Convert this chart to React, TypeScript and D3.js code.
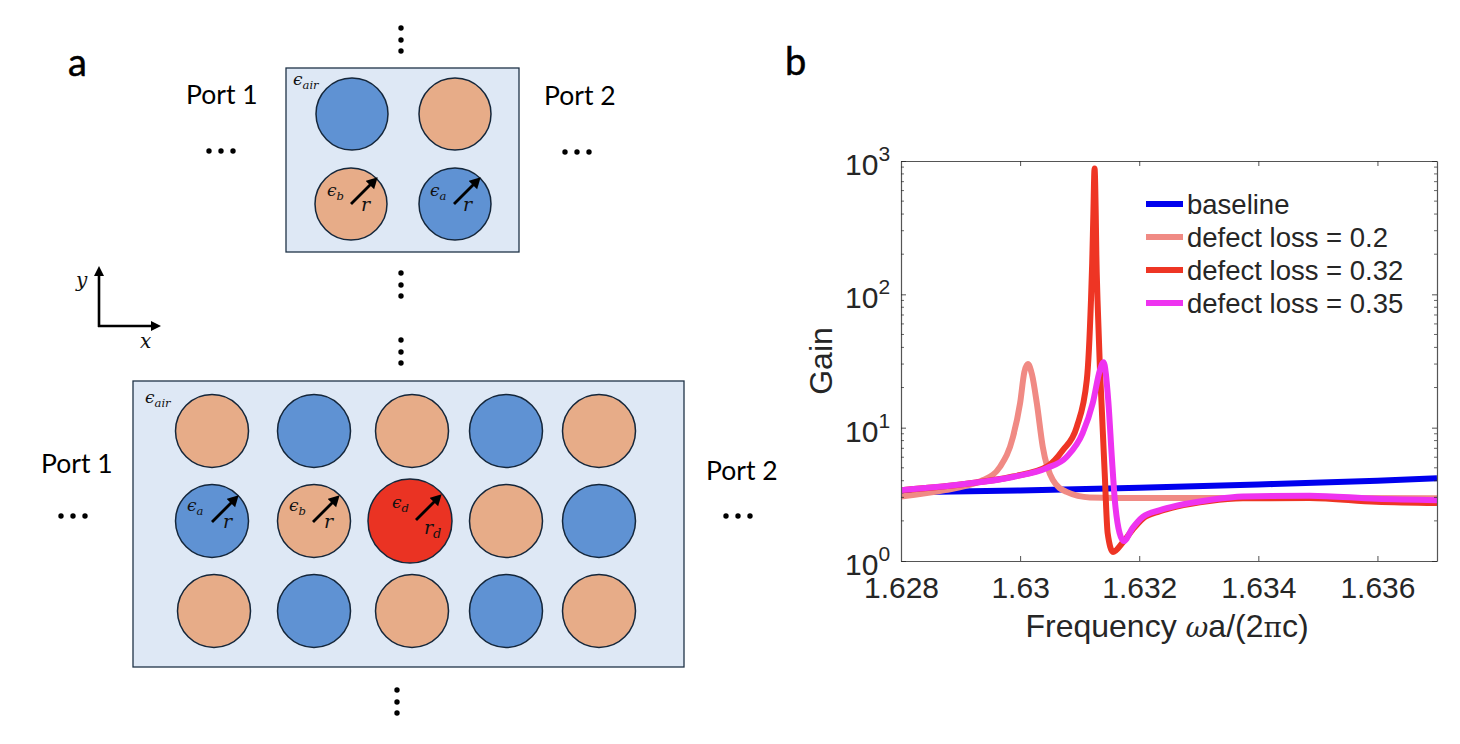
import React, {useEffect, useRef} from 'react';
import * as d3 from 'd3';

// gain curves
const baselineFreq = [1.628, 1.63, 1.632, 1.634, 1.636, 1.637];
const baselineGain = [3.28, 3.38, 3.55, 3.75, 4.0, 4.17];

const loss20Freq = [1.628, 1.62874, 1.62929, 1.62938, 1.62966, 1.62988, 1.63, 1.63007, 1.63013, 1.6302, 1.63028, 1.63038, 1.63055, 1.63078, 1.63117, 1.632, 1.634, 1.637];
const loss20Gain = [3.05, 3.4, 3.9, 4.05, 5.07, 8.5, 15.3, 26, 30, 25, 15.3, 7.2, 4.05, 3.3, 3.0, 2.97, 2.97, 2.96];

const loss32Freq = [1.628, 1.629, 1.62988, 1.63045, 1.63072, 1.63095, 1.63112, 1.63119, 1.63121, 1.63123, 1.63125, 1.63127, 1.63128, 1.6313, 1.63134, 1.63137, 1.63142, 1.63147, 1.63156, 1.63172, 1.63189, 1.63206, 1.63235, 1.63263, 1.63318, 1.63374, 1.63486, 1.63598, 1.637];
const loss32Gain = [3.4, 3.75, 4.3, 5.1, 6.8, 10.1, 22.8, 90, 170, 400, 880, 400, 200, 90, 28, 14.3, 4.6, 1.62, 1.17, 1.37, 1.72, 2.08, 2.36, 2.56, 2.82, 2.95, 2.97, 2.78, 2.72];

const loss35Freq = [1.628, 1.629, 1.62988, 1.63045, 1.63078, 1.63105, 1.63122, 1.63134, 1.6314, 1.63148, 1.63154, 1.63159, 1.63167, 1.63174, 1.63189, 1.63206, 1.63235, 1.63263, 1.63318, 1.63374, 1.63486, 1.63598, 1.637];
const loss35Gain = [3.4, 3.75, 4.27, 4.98, 6.03, 9.1, 15.3, 27, 31, 16, 6, 2.87, 1.62, 1.41, 1.77, 2.14, 2.41, 2.6, 2.87, 3.05, 3.09, 2.93, 2.86];

const legendLabels = ['baseline', 'defect loss = 0.2', 'defect loss = 0.32', 'defect loss = 0.35'];
const seriesColors = ['#0000ee', '#f08a84', '#ee3524', '#ee33f0'];

const xTicks = [1.628, 1.63, 1.632, 1.634, 1.636];
const yDecades = [1, 10, 100, 1000];
const decadeExponents = ['0', '1', '2', '3'];

// schematic: materials in the two lattices
const topCells = [['a', 'b'], ['b', 'a']];
const bottomCells = [
    ['b', 'a', 'b', 'a', 'b'],
    ['a', 'b', 'd', 'b', 'a'],
    ['b', 'a', 'b', 'a', 'b'],
];
const topX = [[352, 455], [351, 455]];
const topY = [114, 204];
const bottomX = [
    [212, 314, 412, 506, 599],
    [212, 314, 410, 506, 599],
    [214, 314, 412, 506, 599],
];
const bottomY = [431, 521, 611];
const materialColors: Record<string, string> = {a: '#5f92d3', b: '#e7ac88', d: '#ea3323'};

const width = 1460;
const height = 744;
const plot = {left: 901, right: 1437, top: 161, bottom: 561};
const ink = '#262626';
const schematicFont = 'Lato, "Open Sans", sans-serif';
const mathFont = '"DejaVu Serif", serif';
const chartFont = '"Liberation Sans", Arial, sans-serif';

const Dots: React.FC<{ xs: number[]; ys: number[] }> = ({xs, ys}) => (
    <g>
        {xs.flatMap(x => ys.map(y => <circle key={`${x}-${y}`} cx={x} cy={y} r={2.7} fill="#000"/>))}
    </g>
);

const Symbol: React.FC<{ x: number; y: number; main: string; sub?: string; size?: number }> = ({x, y, main, sub, size = 17}) => (
    <text x={x} y={y} fontFamily={mathFont} fontStyle="italic" fontSize={size} fill="#111">
        {main}
        {sub && <tspan fontSize={size * 0.68} dy={size * 0.22}>{sub}</tspan>}
    </text>
);

const Pillar: React.FC<{ cx: number; cy: number; material: string; r?: number }> = ({cx, cy, material, r = 36}) => (
    <circle cx={cx} cy={cy} r={r} fill={materialColors[material]} stroke="#14263a" strokeWidth={1.5}/>
);

const Radius: React.FC<{ cx: number; cy: number; len?: number }> = ({cx, cy, len = 25}) => (
    <line x1={cx} y1={cy} x2={cx + len - 4} y2={cy - len + 4} stroke="#000" strokeWidth={2.8} markerEnd="url(#arrowHead)"/>
);

const App: React.FC = () => {
    const svgRef = useRef<SVGSVGElement>(null);

    useEffect(() => {
        const svg = d3.select(svgRef.current);
        svg.select('.chart').remove();
        const g = svg.append('g').attr('class', 'chart');

        const xScale = d3.scaleLinear().domain([1.628, 1.637]).range([plot.left, plot.right]);
        const yScale = d3.scaleLog().domain([1, 1000]).range([plot.bottom, plot.top]);

        g.append('clipPath').attr('id', 'plotClip').append('rect')
            .attr('x', plot.left).attr('y', plot.top)
            .attr('width', plot.right - plot.left).attr('height', plot.bottom - plot.top);

        const series = [
            {freq: baselineFreq, gain: baselineGain},
            {freq: loss20Freq, gain: loss20Gain},
            {freq: loss32Freq, gain: loss32Gain},
            {freq: loss35Freq, gain: loss35Gain},
        ];
        const line = d3.line<[number, number]>()
            .x(d => xScale(d[0]))
            .y(d => yScale(d[1]))
            .curve(d3.curveMonotoneX);

        g.append('g').attr('clip-path', 'url(#plotClip)')
            .selectAll('path')
            .data(series)
            .enter().append('path')
            .attr('fill', 'none')
            .attr('stroke', (_, i) => seriesColors[i])
            .attr('stroke-width', 6)
            .attr('stroke-linejoin', 'round')
            .attr('d', d => line(d.freq.map((f, i) => [f, d.gain[i]] as [number, number])));

        // minor ticks of the log axis
        const minorTicks = yDecades.slice(0, 3).flatMap(d => d3.range(2, 10).map(m => d * m));

        const styleAxis = (sel: d3.Selection<SVGGElement, unknown, null, undefined>) => {
            sel.select('.domain').attr('stroke', '#555').attr('stroke-width', 1.2);
            sel.selectAll('line').attr('stroke', ink).attr('stroke-width', 0.8);
        };

        g.append('g').attr('transform', `translate(0,${plot.bottom})`)
            .call(d3.axisBottom(xScale).tickValues(xTicks).tickSize(-5).tickSizeOuter(0).tickFormat(d => `${+d}`))
            .call(styleAxis)
            .call(a => a.selectAll('text')
                .attr('y', 37).attr('dy', 0)
                .attr('font-family', chartFont).attr('font-size', 30).attr('fill', ink));

        g.append('g').attr('transform', `translate(0,${plot.top})`)
            .call(d3.axisTop(xScale).tickValues(xTicks).tickSize(-5).tickSizeOuter(0).tickFormat(() => ''))
            .call(styleAxis);

        g.append('g').attr('transform', `translate(${plot.left},0)`)
            .call(d3.axisLeft(yScale).tickValues(yDecades).tickSize(-5).tickSizeOuter(0).tickFormat(() => ''))
            .call(styleAxis);

        g.append('g').attr('transform', `translate(${plot.right},0)`)
            .call(d3.axisRight(yScale).tickValues(yDecades).tickSize(-5).tickSizeOuter(0).tickFormat(() => ''))
            .call(styleAxis);

        g.append('g').selectAll('line')
            .data(minorTicks.flatMap(v => [{v, x1: plot.left, x2: plot.left + 3}, {v, x1: plot.right, x2: plot.right - 3}]))
            .enter().append('line')
            .attr('x1', d => d.x1).attr('x2', d => d.x2)
            .attr('y1', d => yScale(d.v)).attr('y2', d => yScale(d.v))
            .attr('stroke', ink).attr('stroke-width', 0.7);

        // 10^n labels
        const labels = g.append('g').selectAll('text')
            .data(yDecades)
            .enter().append('text')
            .attr('font-family', chartFont)
            .attr('fill', ink)
            .attr('x', plot.left - 56)
            .attr('y', d => yScale(d) + 14)
            .attr('font-size', 30);
        labels.append('tspan').text('10');
        labels.append('tspan').attr('font-size', 21).attr('dy', -14).text((_, i) => decadeExponents[i]);

        g.append('text')
            .attr('transform', `translate(832,361) rotate(-90)`)
            .attr('text-anchor', 'middle')
            .attr('font-family', chartFont).attr('font-size', 32).attr('fill', ink)
            .text('Gain');

        const xLabel = g.append('text')
            .attr('x', 1167).attr('y', 637)
            .attr('text-anchor', 'middle')
            .attr('font-family', chartFont).attr('font-size', 32).attr('fill', ink);
        xLabel.append('tspan').text('Frequency ');
        xLabel.append('tspan').attr('font-family', mathFont).attr('font-style', 'italic').attr('font-size', 28).text('ω');
        xLabel.append('tspan').text('a/(2');
        xLabel.append('tspan').attr('font-family', mathFont).attr('font-size', 28).text('π');
        xLabel.append('tspan').text('c)');

        // legend
        const legendY = d3.scalePoint<string>().domain(legendLabels).range([204, 303]);
        const legend = g.append('g').selectAll('g')
            .data(legendLabels)
            .enter().append('g')
            .attr('transform', d => `translate(1146,${legendY(d)})`);
        legend.append('line')
            .attr('x1', 0).attr('x2', 37)
            .attr('stroke', (_, i) => seriesColors[i])
            .attr('stroke-width', 6);
        legend.append('text')
            .attr('x', 41).attr('y', 9.5)
            .attr('font-family', chartFont).attr('font-size', 27.5).attr('fill', ink)
            .text(d => d);
    }, []);

    return (
        <svg ref={svgRef} width={width} height={height}
             style={{position: 'absolute', left: 0, top: 0, background: '#fff'}}>
            <defs>
                <marker id="arrowHead" markerUnits="userSpaceOnUse" markerWidth={14} markerHeight={14}
                        refX={3} refY={6} orient="auto">
                    <path d="M0,0 L11,6 L0,12 Z" fill="#000"/>
                </marker>
            </defs>

            <text x={68} y={76} fontFamily={schematicFont} fontSize={38} fill="#000" stroke="#000" strokeWidth={0.5}>a</text>
            <text x={785} y={75} fontFamily={schematicFont} fontSize={38} fill="#000" stroke="#000" strokeWidth={0.5}>b</text>

            {/* unit cell */}
            <rect x={286} y={68} width={233} height={184} fill="#dee8f5" stroke="#1f3347" strokeWidth={1.3}/>
            {topCells.flatMap((row, i) => row.map((m, j) => (
                <Pillar key={`t${i}${j}`} cx={topX[i][j]} cy={topY[i]} material={m}/>
            )))}
            <Symbol x={293} y={85} main="ϵ" sub="air"/>
            <Symbol x={327} y={196} main="ϵ" sub="b"/>
            <Symbol x={430} y={196} main="ϵ" sub="a"/>
            <Radius cx={351} cy={204}/>
            <Radius cx={454} cy={204}/>
            <Symbol x={361} y={211} main="r" size={19}/>
            <Symbol x={463} y={211} main="r" size={19}/>

            <text x={186} y={104} fontFamily={schematicFont} fontSize={26.5} fill="#000">Port 1</text>
            <text x={544} y={105} fontFamily={schematicFont} fontSize={26.5} fill="#000">Port 2</text>
            <Dots xs={[209, 221, 233]} ys={[151]}/>
            <Dots xs={[565, 577, 589]} ys={[152]}/>
            <Dots xs={[401]} ys={[28, 40, 51]}/>
            <Dots xs={[401]} ys={[273, 285, 296]}/>
            <Dots xs={[401]} ys={[340, 352, 363]}/>
            <Dots xs={[397]} ys={[690, 702, 713]}/>

            {/* axes key */}
            <line x1={99} y1={327} x2={99} y2={274} stroke="#000" strokeWidth={2.6}/>
            <line x1={98} y1={326} x2={152} y2={326} stroke="#000" strokeWidth={2.6}/>
            <path d="M99,266 L104,276 L94,276 Z" fill="#000"/>
            <path d="M161,326 L151,321 L151,331 Z" fill="#000"/>
            <Symbol x={76} y={287} main="y" size={20}/>
            <Symbol x={140} y={348} main="x" size={20}/>

            {/* defect lattice */}
            <rect x={133} y={381} width={551} height={286} fill="#dee8f5" stroke="#1f3347" strokeWidth={1.3}/>
            {bottomCells.flatMap((row, i) => row.map((m, j) => (
                <Pillar key={`b${i}${j}`} cx={bottomX[i][j]} cy={bottomY[i]} material={m} r={m === 'd' ? 42 : 36.5}/>
            )))}
            <Symbol x={145} y={403} main="ϵ" sub="air"/>
            <Symbol x={187} y={511} main="ϵ" sub="a"/>
            <Symbol x={289} y={511} main="ϵ" sub="b"/>
            <Symbol x={392} y={508} main="ϵ" sub="d"/>
            <Radius cx={212} cy={522}/>
            <Radius cx={313} cy={522}/>
            <Radius cx={416} cy={520} len={24}/>
            <Symbol x={223} y={528} main="r" size={19}/>
            <Symbol x={324} y={528} main="r" size={19}/>
            <Symbol x={424} y={534} main="r" sub="d" size={19}/>

            <text x={41} y={473} fontFamily={schematicFont} fontSize={26.5} fill="#000">Port 1</text>
            <text x={706} y={480} fontFamily={schematicFont} fontSize={26.5} fill="#000">Port 2</text>
            <Dots xs={[61, 73, 85]} ys={[516]}/>
            <Dots xs={[726, 738, 750]} ys={[516]}/>
        </svg>
    );
};

export default App;
